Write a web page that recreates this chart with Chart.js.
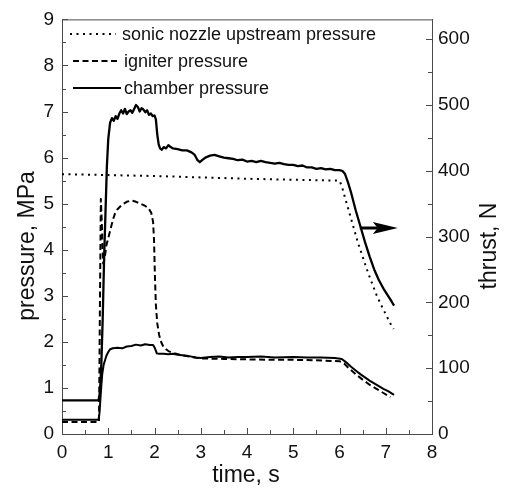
<!DOCTYPE html>
<html><head><meta charset="utf-8">
<script src="https://cdn.jsdelivr.net/npm/chart.js@4"></script>
<style>html,body{margin:0;padding:0;background:#fff;}#wrap{width:511px;height:488px;}</style>
</head><body><div id="wrap"><canvas id="c" width="511" height="488"></canvas></div>
<script>
// ---------- data ----------
const xTitle = 'time, s';
const yTitle = 'pressure, MPa';
const y2Title = 'thrust, N';
const legendLabels = ['sonic nozzle upstream pressure', 'igniter pressure', 'chamber pressure'];

const xTicks = [0, 1, 2, 3, 4, 5, 6, 7, 8];
const yTicks = [0, 1, 2, 3, 4, 5, 6, 7, 8, 9];
const y2Ticks = [0, 100, 200, 300, 400, 500, 600];

// sonic nozzle upstream pressure, MPa
const sonicTime = [0, 1, 2, 3, 4, 5, 6.0, 6.05, 6.1, 6.2, 6.3, 6.4, 6.5, 6.6, 6.7, 6.8, 6.9, 7.0, 7.1, 7.17];
const sonicP = [5.64, 5.62, 5.6, 5.57, 5.54, 5.52, 5.5, 5.38, 5.2, 4.85, 4.5, 4.15, 3.85, 3.55, 3.28, 3.02, 2.8, 2.6, 2.4, 2.28];

// igniter pressure, MPa
const igniterTime = [0, 0.8, 0.82, 0.84, 0.86, 0.89, 0.92, 0.96, 1.0, 1.05, 1.1, 1.15, 1.2, 1.3, 1.4, 1.5, 1.6, 1.7, 1.8, 1.87, 1.93, 1.97, 1.99, 2.01, 2.03, 2.06, 2.1, 2.15, 2.2, 2.3, 2.4, 2.6, 2.8, 3.0, 3.5, 4.0, 4.5, 5.0, 5.5, 6.0, 6.1, 6.2, 6.35, 6.5, 6.65, 6.8, 6.95, 7.1];
const igniterP = [0.26, 0.26, 2.8, 5.1, 4.6, 3.7, 3.8, 4.1, 4.25, 4.45, 4.65, 4.8, 4.88, 4.98, 5.04, 5.07, 5.04, 5.0, 4.95, 4.9, 4.8, 4.6, 4.2, 3.4, 2.8, 2.4, 2.15, 1.98, 1.88, 1.8, 1.76, 1.71, 1.67, 1.64, 1.63, 1.62, 1.61, 1.61, 1.6, 1.58, 1.53, 1.43, 1.3, 1.18, 1.07, 0.98, 0.89, 0.8];

// chamber pressure, MPa
const chamberTime = [0, 0.79, 0.81, 0.83, 0.85, 0.87, 0.9, 0.93, 0.96, 1.0, 1.04, 1.1, 1.2, 1.3, 1.4, 1.5, 1.6, 1.7, 1.8, 1.9, 1.97, 2.01, 2.05, 2.1, 2.2, 2.3, 2.4, 2.5, 2.6, 2.7, 2.8, 2.9, 3.0, 3.2, 3.4, 3.6, 3.8, 4.0, 4.3, 4.6, 5.0, 5.3, 5.6, 5.9, 6.05, 6.15, 6.25, 6.35, 6.45, 6.55, 6.65, 6.75, 6.85, 6.95, 7.05, 7.18];
const chamberP = [0.31, 0.31, 0.45, 0.75, 1.05, 1.3, 1.5, 1.6, 1.7, 1.78, 1.84, 1.86, 1.87, 1.86, 1.9, 1.91, 1.94, 1.92, 1.95, 1.93, 1.93, 1.86, 1.75, 1.74, 1.74, 1.73, 1.74, 1.72, 1.71, 1.7, 1.68, 1.66, 1.65, 1.67, 1.68, 1.66, 1.67, 1.67, 1.68, 1.66, 1.67, 1.66, 1.66, 1.65, 1.63, 1.55, 1.46, 1.38, 1.3, 1.23, 1.16, 1.1, 1.04, 0.98, 0.93, 0.85];

// thrust, N (right axis)
const thrustTime = [0, 0.79, 0.82, 0.85, 0.88, 0.91, 0.94, 0.97, 1.0, 1.04, 1.08, 1.12, 1.16, 1.2, 1.24, 1.28, 1.32, 1.36, 1.4, 1.44, 1.48, 1.52, 1.56, 1.6, 1.64, 1.68, 1.72, 1.76, 1.8, 1.84, 1.88, 1.92, 1.96, 2.0, 2.03, 2.06, 2.09, 2.12, 2.16, 2.2, 2.25, 2.3, 2.35, 2.4, 2.5, 2.6, 2.7, 2.8, 2.87, 2.93, 2.98, 3.03, 3.1, 3.2, 3.3, 3.4, 3.5, 3.6, 3.7, 3.8, 3.9, 4.0, 4.1, 4.2, 4.3, 4.4, 4.5, 4.6, 4.7, 4.8, 4.9, 5.0, 5.1, 5.2, 5.3, 5.4, 5.5, 5.6, 5.7, 5.8, 5.9, 6.0, 6.06, 6.12, 6.18, 6.25, 6.35, 6.45, 6.55, 6.65, 6.75, 6.85, 6.95, 7.05, 7.13, 7.18];
const thrustN = [51, 51, 63, 105, 175, 266, 336, 406, 448, 473, 480, 476, 483, 479, 487, 492, 487, 494, 486, 490, 492, 488, 494, 500, 497, 490, 495, 493, 489, 492, 485, 487, 483, 484, 478, 455, 440, 434, 432, 436, 434, 439, 436, 434, 433, 431, 431, 428, 424, 416, 413, 416, 420, 423, 424, 422, 420, 419, 418, 416, 417, 414, 415, 413, 415, 413, 412, 411, 412, 410, 409, 409, 407, 408, 405, 405, 403, 404, 402, 403, 401, 401, 400, 395, 383, 367, 340, 316, 292, 270, 250, 234, 221, 210, 201, 195];

// arrow pointing from the thrust curve to the thrust axis (time, N)
const arrowFrom = [6.44, 313];
const arrowTo = [7.26, 313];

// ---------- styling ----------
const FONT = 'Liberation Sans, Arial, Helvetica, sans-serif';
const AXIS = '#4a4a4a';
const TEXT = '#111111';
const INK = '#000000';

const pts = (xs, ys) => xs.map((x, i) => ({x: x, y: ys[i]}));
const setTicks = arr => s => { s.ticks = arr.map(v => ({value: v})); };
const mids = arr => arr.slice(0, -1).map((v, i) => (v + arr[i + 1]) / 2);

const datasets = [
  {label: legendLabels[0], data: pts(sonicTime, sonicP), yAxisID: 'y', borderColor: INK, borderWidth: 2, borderDash: [2, 4.5], borderCapStyle: 'butt'},
  {label: legendLabels[1], data: pts(igniterTime, igniterP), yAxisID: 'y', borderColor: INK, borderWidth: 2, borderDash: [6, 3.5]},
  {label: legendLabels[2], data: pts(chamberTime, chamberP), yAxisID: 'y', borderColor: INK, borderWidth: 2},
  {label: 'thrust', data: pts(thrustTime, thrustN), yAxisID: 'y2', borderColor: INK, borderWidth: 2.3}
];
datasets.forEach(d => { d.pointRadius = 0; d.tension = 0; d.fill = false; d.borderJoinStyle = 'round'; });

const decorPlugin = {
  id: 'decor',
  afterDatasetsDraw(chart) {
    const {ctx, chartArea: a, scales} = chart;
    ctx.save();
    ctx.strokeStyle = AXIS; ctx.lineWidth = 1; ctx.setLineDash([]);
    ctx.beginPath();
    // top frame line
    ctx.moveTo(a.left, a.top + 0.5); ctx.lineTo(a.right + 0.5, a.top + 0.5);
    // inward tick marks
    const xs = scales.x, ys = scales.y, y2 = scales.y2;
    const tx = (v, len) => { const p = Math.round(xs.getPixelForValue(v)) + 0.5; ctx.moveTo(p, a.bottom); ctx.lineTo(p, a.bottom - len); };
    const ty = (v, len) => { const p = Math.round(ys.getPixelForValue(v)) + 0.5; ctx.moveTo(a.left, p); ctx.lineTo(a.left + len, p); };
    const ty2 = (v, len) => { const p = Math.round(y2.getPixelForValue(v)) + 0.5; ctx.moveTo(a.right, p); ctx.lineTo(a.right - len, p); };
    xTicks.forEach(v => tx(v, 6)); mids(xTicks).forEach(v => tx(v, 4));
    yTicks.forEach(v => ty(v, 6)); mids(yTicks).forEach(v => ty(v, 4));
    y2Ticks.forEach(v => ty2(v, 6)); mids(y2Ticks).forEach(v => ty2(v, 4));
    ctx.stroke();

    // arrow
    const ax0 = xs.getPixelForValue(arrowFrom[0]), ay = y2.getPixelForValue(arrowFrom[1]);
    const ax1 = xs.getPixelForValue(arrowTo[0]);
    ctx.strokeStyle = INK; ctx.fillStyle = INK; ctx.lineWidth = 3;
    ctx.beginPath(); ctx.moveTo(ax0, ay); ctx.lineTo(ax1 - 20, ay); ctx.stroke();
    ctx.beginPath(); ctx.moveTo(ax1, ay); ctx.lineTo(ax1 - 25, ay - 6); ctx.lineTo(ax1 - 20, ay); ctx.lineTo(ax1 - 25, ay + 6); ctx.closePath(); ctx.fill();

    // legend inside plot area
    const rows = [34, 61, 88];
    const lineX = [[70, 116], [73, 118], [73, 121]];
    const textX = [122, 124, 124];
    ctx.font = '18px ' + FONT;
    ctx.textBaseline = 'middle';
    ctx.fillStyle = TEXT;
    for (let i = 0; i < 3; i++) {
      const d = datasets[i];
      ctx.beginPath();
      ctx.strokeStyle = INK; ctx.lineWidth = 2;
      ctx.setLineDash(d.borderDash || []);
      ctx.moveTo(lineX[i][0], rows[i]); ctx.lineTo(lineX[i][1], rows[i]);
      ctx.stroke();
      ctx.fillText(legendLabels[i], textX[i], rows[i] + 1);
    }
    ctx.restore();
  },
  afterDraw(chart) {
    const {ctx} = chart;
    ctx.save();
    ctx.fillStyle = TEXT;
    ctx.font = '23px ' + FONT;
    ctx.textAlign = 'center';
    ctx.textBaseline = 'alphabetic';
    ctx.fillText(xTitle, 246, 482);
    ctx.translate(34, 246); ctx.rotate(-Math.PI / 2);
    ctx.fillText(yTitle, 0, 0);
    ctx.restore();
    ctx.save();
    ctx.fillStyle = TEXT;
    ctx.font = '23px ' + FONT;
    ctx.textAlign = 'center';
    ctx.textBaseline = 'alphabetic';
    ctx.translate(496, 246); ctx.rotate(-Math.PI / 2);
    ctx.fillText(y2Title, 0, 0);
    ctx.restore();
  }
};

const tickFont = {family: FONT, size: 19};
new Chart(document.getElementById('c'), {
  type: 'line',
  data: {datasets: datasets},
  options: {
    responsive: false, animation: false, devicePixelRatio: 1,
    layout: {padding: {top: 15, left: 0, right: 0, bottom: 0}},
    plugins: {legend: {display: false}, tooltip: {enabled: false}},
    scales: {
      x: {type: 'linear', min: 0, max: 8, afterBuildTicks: setTicks(xTicks),
          grid: {display: false, drawTicks: false}, border: {display: true, color: AXIS, width: 1},
          ticks: {font: tickFont, color: TEXT, padding: 7, maxRotation: 0, autoSkip: false},
          afterFit: s => { s.height = 54; }},
      y: {type: 'linear', position: 'left', min: 0, max: 9, afterBuildTicks: setTicks(yTicks),
          grid: {display: false, drawTicks: false}, border: {display: true, color: AXIS, width: 1},
          ticks: {font: tickFont, color: TEXT, padding: 8, autoSkip: false},
          afterFit: s => { s.width = 62; }},
      y2: {type: 'linear', position: 'right', min: 0, max: 630, afterBuildTicks: setTicks(y2Ticks),
          grid: {display: false, drawTicks: false}, border: {display: true, color: AXIS, width: 1},
          ticks: {font: tickFont, color: TEXT, padding: 6, autoSkip: false},
          afterFit: s => { s.width = 79; }}
    }
  },
  plugins: [decorPlugin]
});
</script></body></html>
